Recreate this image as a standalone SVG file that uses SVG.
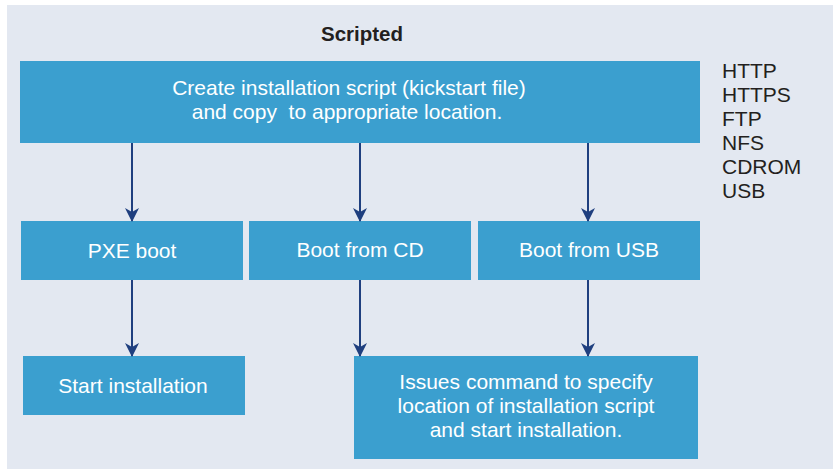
<svg xmlns="http://www.w3.org/2000/svg" width="833" height="469" viewBox="0 0 833 469">
<defs>
<style>
.box{fill:#3b9fcf}
.t{font-family:"Liberation Sans",Arial,sans-serif;font-size:21px;fill:#ffffff;text-anchor:middle;white-space:pre}
.side{font-family:"Liberation Sans",Arial,sans-serif;font-size:21px;fill:#231f20}
.title{font-family:"Liberation Sans",Arial,sans-serif;font-size:20.5px;font-weight:bold;fill:#231f20;text-anchor:middle}
.c{stroke:#1f3f7f;stroke-width:2;fill:none;marker-end:url(#ah)}
</style>
<marker id="ah" markerWidth="14" markerHeight="16" refX="13" refY="7" orient="auto" markerUnits="userSpaceOnUse">
<path d="M0,0 L14,7 L0,14 L4,7 Z" fill="#1f3f7f"/>
</marker>
</defs>
<rect x="0" y="0" width="833" height="469" fill="#ffffff"/>
<rect x="7" y="5" width="826" height="464" fill="#e3e8f1"/>
<text class="title" x="362" y="41">Scripted</text>
<g id="create">
<rect class="box" x="20" y="61" width="680" height="82"/>
<text class="t" x="349" y="95">Create installation script (kickstart file)</text>
<text class="t" x="347" y="119" xml:space="preserve">and copy  to appropriate location.</text>
</g>
<g id="protocols">
<text class="side" x="722" y="78">HTTP</text>
<text class="side" x="722" y="102">HTTPS</text>
<text class="side" x="722" y="126">FTP</text>
<text class="side" x="722" y="150">NFS</text>
<text class="side" x="722" y="174">CDROM</text>
<text class="side" x="722" y="198">USB</text>
</g>
<g id="pxe">
<rect class="box" x="21" y="221" width="222" height="59"/>
<text class="t" x="132" y="258">PXE boot</text>
</g>
<g id="cd">
<rect class="box" x="249" y="221" width="222" height="59"/>
<text class="t" x="360" y="257">Boot from CD</text>
</g>
<g id="usb">
<rect class="box" x="478" y="221" width="222" height="59"/>
<text class="t" x="589" y="257">Boot from USB</text>
</g>
<g id="start">
<rect class="box" x="23" y="356" width="222" height="59"/>
<text class="t" x="133" y="393">Start installation</text>
</g>
<g id="issues">
<rect class="box" x="354" y="356" width="344" height="103"/>
<text class="t" x="526" y="389">Issues command to specify</text>
<text class="t" x="526" y="413">location of installation script</text>
<text class="t" x="526" y="437">and start installation.</text>
</g>
<g id="connectors">
<line class="c" x1="132" y1="143" x2="132" y2="221"/>
<line class="c" x1="360" y1="143" x2="360" y2="221"/>
<line class="c" x1="588" y1="143" x2="588" y2="221"/>
<line class="c" x1="132" y1="280" x2="132" y2="356"/>
<line class="c" x1="360" y1="280" x2="360" y2="356"/>
<line class="c" x1="588" y1="280" x2="588" y2="356"/>
</g>
</svg>
